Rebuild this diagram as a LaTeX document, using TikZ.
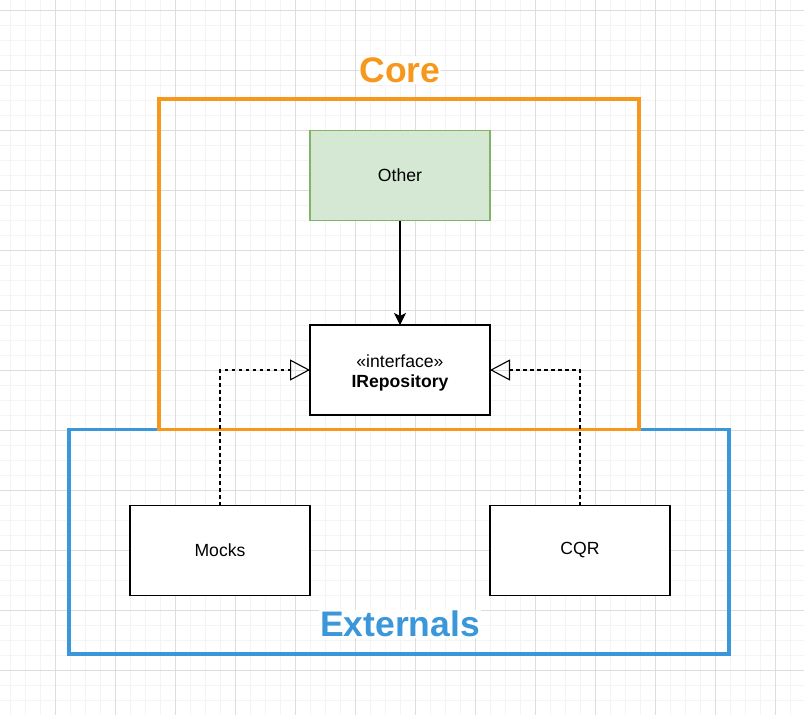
\documentclass[tikz,border=0pt]{standalone}
\usepackage{fontspec}
\setmainfont{Liberation Sans}
\usetikzlibrary{arrows.meta}
\definecolor{coreorange}{RGB}{247,152,29}
\definecolor{extblue}{RGB}{58,151,218}
\definecolor{greenfill}{RGB}{213,232,212}
\definecolor{greenline}{RGB}{130,179,102}
\definecolor{gridmajor}{RGB}{221,221,221}
\definecolor{gridminor}{RGB}{244,244,244}
\tikzset{
  box/.style={draw=black, line width=1.1pt, fill=white, minimum width=180pt, minimum height=90pt, inner sep=0pt, outer sep=0pt, font=\fontsize{17.6}{20}\selectfont, align=center},
  greenbox/.style={box, draw=greenline, fill=greenfill},
  title/.style={font=\fontsize{35.5}{40}\bfseries, fill=white, inner sep=1pt},
  dep/.style={-{Stealth[length=12pt,width=12pt,inset=3pt]}, line width=1.1pt},
  realize/.style={dashed, dash pattern=on 3.6pt off 3.4pt, line width=1.1pt, -{Triangle[open,length=20pt,width=21pt,line width=1.1pt]}},
}
\begin{document}
\begin{tikzpicture}[x=1pt,y=-1pt]
\useasboundingbox (0,0) rectangle (804,715);
\fill[white] (0,0) rectangle (804,715);
% grid
\foreach \x in {10,25,...,800} \draw[gridminor, line width=1pt] (\x,0) -- (\x,715);
\foreach \y in {10,25,...,715} \draw[gridminor, line width=1pt] (0,\y) -- (804,\y);
\foreach \x in {55,115,...,800} \draw[gridmajor, line width=1pt] (\x,0) -- (\x,715);
\foreach \y in {10,70,...,715} \draw[gridmajor, line width=1pt] (0,\y) -- (804,\y);
% containers
\draw[extblue, line width=3.3pt] (69,429.5) rectangle (729,654);
\draw[coreorange, line width=3.3pt] (159,99) rectangle (639,429.5);
\node[title, text=coreorange] (coretitle) at (400,70) {Core};
\node[title, text=extblue] (exttitle) at (400,624) {Externals};
% nodes
\node[greenbox] (other) at (400,175.5) {Other};
\node[box, minimum height=90pt] (irep) at (400,370) {};
\node[font=\fontsize{17.6}{20}\selectfont, align=center, inner sep=0pt] (ireptext) at (400,372.5) {«interface»\\\textbf{IRepository}};
\node[box] (mocks) at (220,550.5) {Mocks};
\node[box] (cqr) at (580,550.5) {CQR};
% connectors
\draw[dep] (other.south) -- (irep.north);
\draw[realize] (mocks.north) |- (irep.west);
\draw[realize] (cqr.north) |- (irep.east);
\end{tikzpicture}
\end{document}
